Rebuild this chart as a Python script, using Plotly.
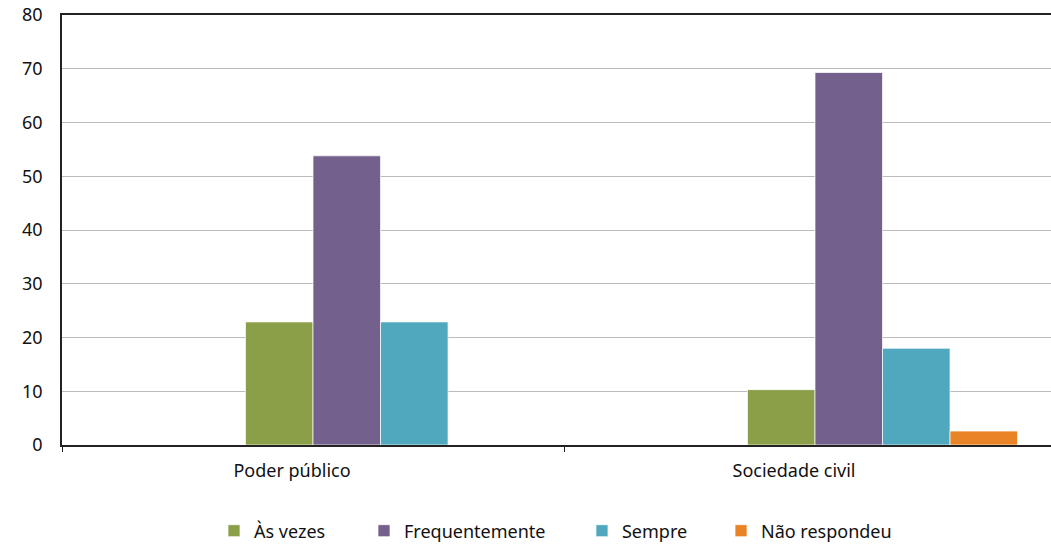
import plotly.graph_objects as go

categories = ["Poder público", "Sociedade civil"]
series_names = ["Nunca", "Raramente", "Às vezes", "Frequentemente", "Sempre", "Não respondeu"]
nunca = [0, 0]
raramente = [0, 0]
as_vezes = [22.9, 10.3]
frequentemente = [53.8, 69.3]
sempre = [22.9, 18.0]
nao_respondeu = [0, 2.6]
values = [nunca, raramente, as_vezes, frequentemente, sempre, nao_respondeu]
colors = ["#9BBB59", "#4F81BD", "#8A9F48", "#73608C", "#50A8BE", "#E98426"]
legend_shown = [False, False, True, True, True, True]
y_ticks = [0, 10, 20, 30, 40, 50, 60, 70, 80]

legend_ids = [None, None, "legend", "legend2", "legend3", "legend4"]
legend_x = [0.1514, 0.3008, 0.5179, 0.6564]

fig = go.Figure()
for name, vals, col, show, lg in zip(series_names, values, colors, legend_shown, legend_ids):
    kw = dict(legend=lg) if lg else {}
    fig.add_trace(go.Bar(
        x=categories, y=vals, name=name, showlegend=show,
        marker=dict(color=col, line=dict(color="rgba(255,255,255,0.7)", width=1)),
        **kw,
    ))

font_family = "Noto Sans, Open Sans, sans-serif"
leg_common = dict(orientation="h", xanchor="left", y=-0.200, yanchor="middle",
                  font=dict(size=18), bgcolor="rgba(0,0,0,0)")
fig.update_layout(
    width=1066, height=544,
    margin=dict(l=62, r=0, t=15, b=99, autoexpand=False),
    paper_bgcolor="white", plot_bgcolor="white",
    barmode="group", bargap=0.193, bargroupgap=0,
    font=dict(family=font_family, size=18, color="#111111"),
    legend=dict(x=legend_x[0], **leg_common),
    legend2=dict(x=legend_x[1], **leg_common),
    legend3=dict(x=legend_x[2], **leg_common),
    legend4=dict(x=legend_x[3], **leg_common),
    xaxis=dict(
        type="category", showline=True, linecolor="#222222", linewidth=2, mirror=True,
        ticks="outside", tickson="boundaries", ticklen=5, tickcolor="#222222",
        showgrid=False, tickfont=dict(size=18), automargin=False,
        ticklabelshift=-21, ticklabelstandoff=8,
    ),
    yaxis=dict(
        range=[0, 80], tickvals=y_ticks, showline=True, linecolor="#222222", linewidth=1.5,
        showgrid=True, gridcolor="#BBBBBB", gridwidth=1.3, zeroline=False,
        ticks="", tickfont=dict(size=18), ticklabelstandoff=14, automargin=False,
    ),
)

post = (
    "document.documentElement.style.margin='0';"
    "document.documentElement.style.padding='0';"
    "document.documentElement.style.overflow='hidden';"
    "document.body.style.margin='0';"
    "document.body.style.padding='0';"
    "document.body.style.overflow='hidden';"
    "var gd=document.getElementById('{plot_id}');"
    "gd.style.display='block';"
    "if(gd.parentElement){gd.parentElement.style.height='544px';gd.parentElement.style.overflow='hidden';}"
)
fig.write_html("out.html", config={"displayModeBar": False}, post_script=post)
